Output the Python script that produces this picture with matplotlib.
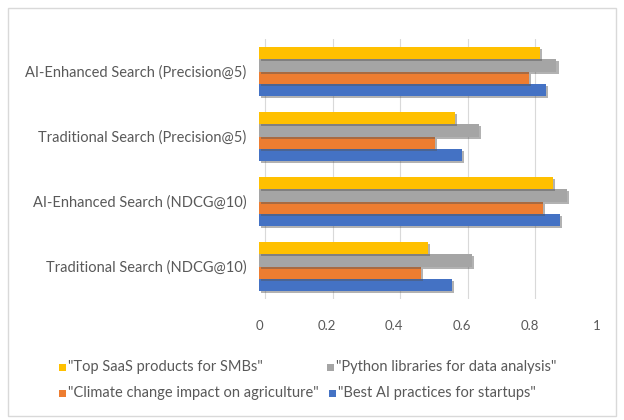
import matplotlib
matplotlib.use("Agg")
import matplotlib.pyplot as plt
import matplotlib.patheffects as pe
from matplotlib.patches import Rectangle
from matplotlib.lines import Line2D
from matplotlib.transforms import ScaledTranslation
import numpy as np

plt.rcParams['font.family'] = ['Lato', 'DejaVu Sans']

categories = ["Traditional Search (NDCG@10)", "AI-Enhanced Search (NDCG@10)",
              "Traditional Search (Precision@5)", "AI-Enhanced Search (Precision@5)"]
series_names = ['"Best AI practices for startups"', '"Climate change impact on agriculture"',
                '"Python libraries for data analysis"', '"Top SaaS products for SMBs"']
best_ai = [0.57, 0.89, 0.60, 0.85]
climate = [0.48, 0.84, 0.52, 0.80]
python_libs = [0.63, 0.91, 0.65, 0.88]
top_saas = [0.50, 0.87, 0.58, 0.83]
series_values = [best_ai, climate, python_libs, top_saas]
colors = ["#4472C4", "#ED7D31", "#A5A5A5", "#FFC000"]
xticks = [0, 0.2, 0.4, 0.6, 0.8, 1]
xtick_labels = ["0", "0.2", "0.4", "0.6", "0.8", "1"]

W, H = 624, 420
fig = plt.figure(figsize=(W/100, H/100), dpi=100)
ax = fig.add_axes([259/W, 1-299/H, (597-259)/W, (299-39)/H])

y = np.arange(len(categories))
bh = 0.19
offsets = (np.arange(4) - 1.5) * bh
shadow = [pe.SimplePatchShadow(offset=(1.5, -1.5), alpha=0.45, shadow_rgbFace="#555555"), pe.Normal()]
for i, (vals, c) in enumerate(zip(series_values, colors)):
    bars = ax.barh(y + offsets[i], vals, height=bh, color=c, zorder=3)
    for b in bars:
        b.set_path_effects(shadow)

ax.set_ylim(-0.5, 3.5)
ax.set_xlim(0, 1)
ax.set_yticks(y)
ax.set_yticklabels(categories, fontsize=10.5, color="#595959")
ax.set_xticks(xticks)
ax.set_xticklabels(xtick_labels, fontsize=9.5, color="#595959")
ax.tick_params(length=0)
ax.tick_params(axis='x', pad=15)
ax.tick_params(axis='y', pad=9)
for s in ax.spines.values():
    s.set_visible(False)

# gridlines (slightly offset as on the back wall)
off = ScaledTranslation(6/100, 0, fig.dpi_scale_trans)
for t in xticks:
    ax.add_line(Line2D([t, t], [0, 1], color="#D9D9D9", lw=0.8, zorder=0,
                       transform=ax.get_xaxis_transform() + off))

# legend
leg_rows = [[(3, 59), (2, 327)], [(1, 59), (0, 329)]]
row_y = [367, 393]
for r, row in enumerate(leg_rows):
    for idx, xpx in row:
        fig.patches.append(Rectangle((xpx/W, 1-(row_y[r]+3.5)/H), 7/W, 7/H,
                                     transform=fig.transFigure, facecolor=colors[idx],
                                     edgecolor='none'))
        fig.text((xpx+9)/W, 1-row_y[r]/H, series_names[idx], fontsize=10.5,
                 color="#595959", va='center', ha='left')

# outer border
fig.patches.append(Rectangle((8/W, 4/H), (616-8)/W, (412-4)/H, transform=fig.transFigure,
                             facecolor='none', edgecolor="#D9D9D9", lw=1))

fig.savefig("out.png", dpi=100)
